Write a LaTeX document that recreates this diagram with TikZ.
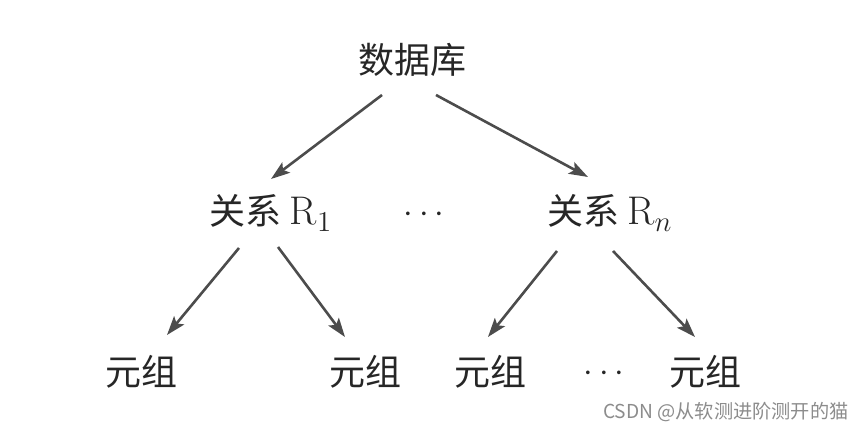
\documentclass[tikz,border=0pt]{standalone}
\usepackage{fontspec}
\newfontfamily\cjk{Noto Sans CJK SC}
\usetikzlibrary{arrows.meta,calc,positioning}

\begin{document}
\begin{tikzpicture}[x=0.5pt,y=-0.5pt,
  every node/.style={inner sep=0pt,text=black!85},
  level/.style={font=\cjk\fontsize{18}{20}\selectfont},
  gap/.style={font=\fontsize{18}{20}\selectfont},
  link/.style={-{Stealth[length=9.5pt,width=6.5pt,inset=2pt]},line width=1.3pt,draw=black!70}]
  \useasboundingbox (0,0) rectangle (864,432);
  % Database
  \node[level] (db) at (412,60) {数据库};
  % Relations
  \node[level] (rel 1) at (271,213) {关系 {\rmfamily\fontsize{20}{22}\selectfont R$_1$}};
  \node[gap]   (rel dots) at (424,215) {$\cdots$};
  \node[level] (rel n) at (610,213) {关系 {\rmfamily\fontsize{20}{22}\selectfont R$_n$}};
  % Tuples
  \node[level] (tup 1) at (141,372) {元组};
  \node[level] (tup 2) at (365,372) {元组};
  \node[level] (tup 3) at (490,372) {元组};
  \node[gap]   (tup dots) at (604,374) {$\cdots$};
  \node[level] (tup 4) at (705,372) {元组};
  % Watermark
  \node[font=\cjk\fontsize{9.6}{12}\selectfont,text=black!45,anchor=east] (mark) at (849,412) {CSDN @从软测进阶测开的猫};
  % Connecting edges
  \draw[link] ($(db)+(-30,35)$) -- ($(rel 1)+(0,-34)$);
  \draw[link] ($(db)+(24,35)$) -- ($(rel n)+(-22,-36)$);
  \draw[link] ($(rel 1)+(-32,35)$) -- ($(tup 1)+(26,-37)$);
  \draw[link] ($(rel 1)+(7,34)$) -- ($(tup 2)+(-20,-35)$);
  \draw[link] ($(rel n)+(-53,38)$) -- ($(tup 3)+(-2,-35)$);
  \draw[link] ($(rel n)+(3,38)$) -- ($(tup 4)+(-10,-35)$);
\end{tikzpicture}
\end{document}
